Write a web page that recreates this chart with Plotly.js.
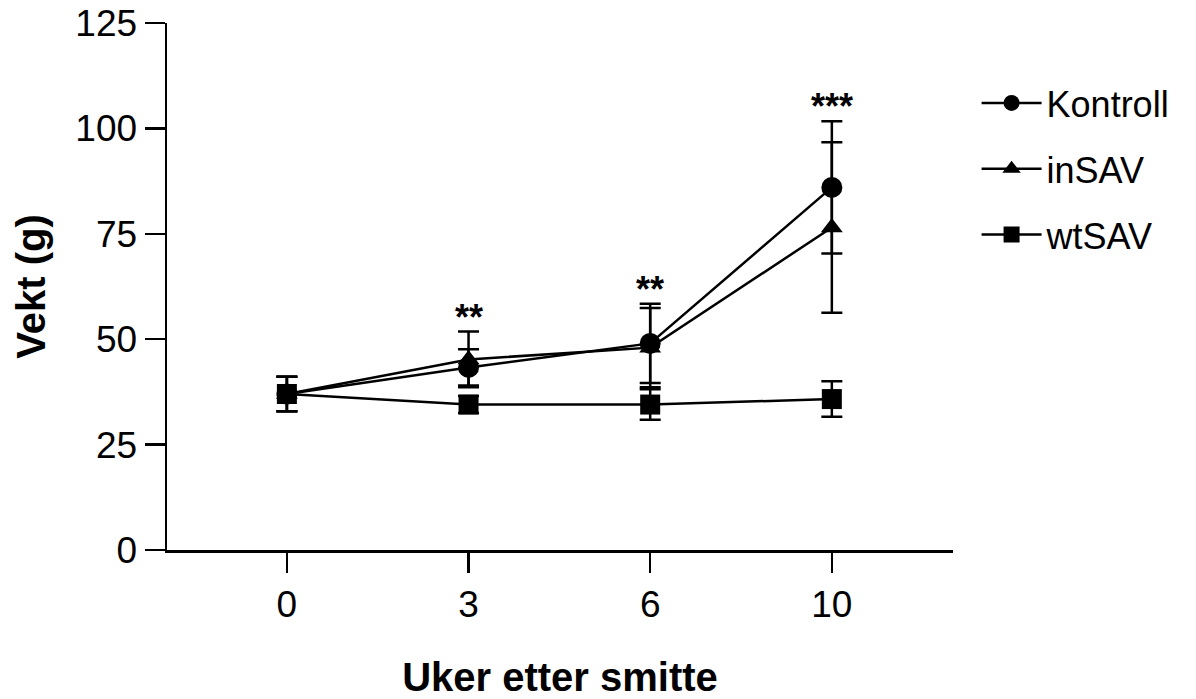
<!DOCTYPE html>
<html>
<head>
<meta charset="utf-8">
<script src="https://cdn.plot.ly/plotly-3.0.1.min.js"></script>
<style>
  html, body { margin: 0; padding: 0; background: #fff; }
  #chart { width: 1196px; height: 699px; }
</style>
</head>
<body>
<div id="chart"></div>
<script>
// Weeks after infection (categorical x positions)
const weeks = ['0', '3', '6', '10'];

// Body weight (g), mean and SD per group
const kontrollMean = [37.0, 43.3, 49.0, 86.0];
const kontrollSd   = [4.1, 4.3, 9.4, 15.7];
const insavMean    = [37.0, 45.2, 48.0, 76.5];
const insavSd      = [4.1, 6.6, 9.4, 20.2];
const wtsavMean    = [37.0, 34.5, 34.5, 35.8];
const wtsavSd      = [4.1, 2.0, 3.6, 4.2];

// Significance marks per week
const sigLabels = ['', '**', '**', '***'];

const groupNames = ['Kontroll', 'inSAV', 'wtSAV'];

const FONT = 'Liberation Sans, Arial, sans-serif';
const LW = 2.5;

function groupTrace(name, means, sds, symbol, size, rank) {
  return {
    type: 'scatter',
    mode: 'lines+markers',
    name: name,
    legendgroup: name,
    legendrank: rank,
    x: weeks,
    y: means,
    line: { color: '#000', width: LW },
    marker: { color: '#000', symbol: symbol, size: size, line: { width: 0 } },
    error_y: { type: 'data', array: sds, visible: true, color: '#000', thickness: LW, width: 10.5 },
    cliponaxis: false
  };
}

// draw order: inSAV under Kontroll, wtSAV on top
const traces = [
  groupTrace(groupNames[1], insavMean, insavSd, 'triangle-up', 19, 2),
  groupTrace(groupNames[0], kontrollMean, kontrollSd, 'circle', 21, 1),
  groupTrace(groupNames[2], wtsavMean, wtsavSd, 'square', 20, 3)
];

// asterisks sit just above the highest error bar of each week
const annotations = [];
weeks.forEach((w, i) => {
  if (!sigLabels[i]) return;
  const top = Math.max(kontrollMean[i] + kontrollSd[i], insavMean[i] + insavSd[i], wtsavMean[i] + wtsavSd[i]);
  annotations.push({
    x: i, y: top, xref: 'x', yref: 'y',
    text: sigLabels[i], showarrow: false,
    xanchor: 'center', yanchor: 'bottom', yshift: -8,
    font: { family: FONT, size: 36, color: '#000', weight: 'bold' }
  });
});

const axisCommon = {
  showline: true, linewidth: LW, linecolor: '#000',
  ticks: 'outside', ticklen: 20, tickwidth: LW, tickcolor: '#000',
  showgrid: false, zeroline: false,
  tickfont: { family: FONT, size: 37, color: '#000' },
  fixedrange: true
};

const layout = {
  width: 1196, height: 699,
  margin: { l: 167, r: 243, t: 23, b: 149, pad: 0 },
  paper_bgcolor: '#fff', plot_bgcolor: '#fff',
  showlegend: true,
  legend: {
    x: 1.03, xanchor: 'left', y: 0.905, yanchor: 'top',
    font: { family: FONT, size: 36, color: '#000' },
    tracegroupgap: 16, traceorder: 'grouped',
    itemwidth: 60, bgcolor: 'rgba(0,0,0,0)'
  },
  xaxis: Object.assign({}, axisCommon, {
    type: 'category', categoryorder: 'array', categoryarray: weeks,
    range: [-0.66, 3.667],
    title: { text: 'Uker etter smitte', standoff: 53, font: { family: FONT, size: 40, color: '#000', weight: 'bold' } }
  }),
  yaxis: Object.assign({}, axisCommon, {
    range: [0, 125], tick0: 0, dtick: 25,
    title: { text: 'Vekt (g)', standoff: 18, font: { family: FONT, size: 40, color: '#000', weight: 'bold' } }
  }),
  annotations: annotations
};

Plotly.newPlot('chart', traces, layout, { staticPlot: true, displayModeBar: false });
</script>
</body>
</html>
